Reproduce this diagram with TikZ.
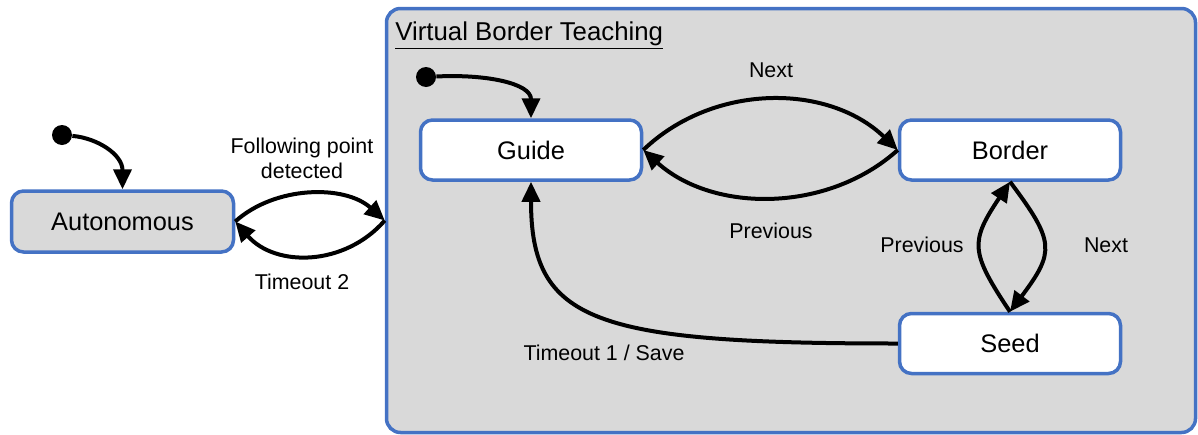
\documentclass[tikz,border=0pt]{standalone}
\usepackage{fontspec}
\setmainfont{Liberation Sans}
\usetikzlibrary{arrows.meta}
\definecolor{bblue}{HTML}{4472C4}
\definecolor{lgray}{HTML}{D9D9D9}
\begin{document}
\begin{tikzpicture}[x=0.5pt,y=-0.5pt,
  state/.style={draw=bblue, line width=1.75pt, rounded corners=6pt, fill=white,
    minimum width=110.5pt, minimum height=30pt, inner sep=0pt,
    font=\fontsize{12.7}{15}\selectfont},
  init/.style={circle, fill=black, minimum size=10pt, inner sep=0pt},
  trans/.style={line width=2pt, -{Triangle[length=10pt,width=9pt]}},
  lbl/.style={inner sep=0pt, font=\fontsize{10.7}{12.5}\selectfont, align=center}]
\useasboundingbox (0,0) rectangle (1198,434);
% container
\node[draw=bblue, fill=lgray, line width=1.75pt, rounded corners=7pt,
  minimum width=404.5pt, minimum height=212pt, inner sep=0pt] (vbt) at (791,220.5) {};
\node[anchor=base west, inner sep=0pt, font=\fontsize{12.9}{15}\selectfont] (title) at (395,40) {\underline{Virtual Border Teaching}};
% states
\node[state, fill=lgray, minimum width=111pt, minimum height=30.5pt] (auto) at (122.5,221.5) {Autonomous};
\node[state] (guide) at (531,150) {Guide};
\node[state] (border) at (1010,150) {Border};
\node[state] (seed) at (1010,343.5) {Seed};
% initial dots
\node[init] (i0) at (62,135) {};
\node[init] (i1) at (426,77) {};
% transitions
\draw[trans] (i0) .. controls +(35,3) and +(0,-35) .. (auto.north);
\draw[trans] (i1) .. controls +(60,-3) and +(0,-35) .. (guide.north);
\draw[trans] (auto.east) .. controls +(40,-36) and +(-40,-36) .. (vbt.west);
\draw[trans] (vbt.west) .. controls +(-40,46) and +(40,46) .. (auto.east);
\draw[trans] (guide.east) .. controls +(70,-67) and +(-70,-67) .. (border.west);
\draw[trans] (border.west) .. controls +(-70,63) and +(70,63) .. (guide.east);
\draw[trans] (seed.north) .. controls +(-40,-60) and +(-40,60) .. (border.south);
\draw[trans] (border.south) .. controls +(45,60) and +(45,-60) .. (seed.north);
\draw[trans] (seed.west) .. controls +(-305,0) and +(0,140) .. (guide.south);
% labels
\node[lbl] (lfp) at (302,158) {Following point\\detected};
\node[lbl] (lt2) at (302,282) {Timeout 2};
\node[lbl] (ln1) at (771,70) {Next};
\node[lbl] (lp1) at (771,231) {Previous};
\node[lbl] (lp2) at (922,245) {Previous};
\node[lbl] (ln2) at (1106,245) {Next};
\node[lbl] (lt1) at (604,353) {Timeout 1 / Save};
\end{tikzpicture}
\end{document}
